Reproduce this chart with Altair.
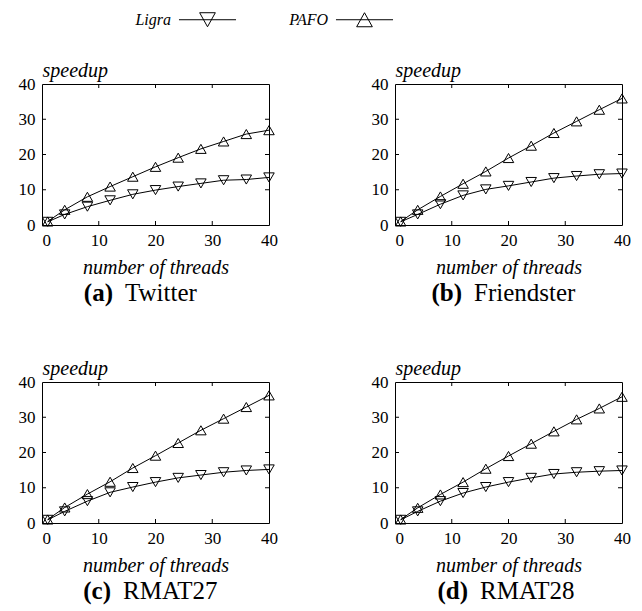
import altair as alt
import pandas as pd

# ---------------- data ----------------
threads = [1, 4, 8, 12, 16, 20, 24, 28, 32, 36, 40]
series_names = ["Ligra", "PAFO"]
panel_letters = ["(a)", "(b)", "(c)", "(d)"]
panel_names = ["Twitter", "Friendster", "RMAT27", "RMAT28"]

twitter_ligra = [0.9, 3.0, 5.2, 7.0, 8.7, 9.9, 10.9, 11.8, 12.7, 12.9, 13.5]
twitter_pafo = [1.0, 4.3, 8.0, 10.9, 13.7, 16.5, 19.1, 21.6, 23.7, 25.8, 26.9]
friendster_ligra = [0.9, 3.0, 5.9, 8.4, 10.1, 11.1, 12.2, 13.3, 13.9, 14.4, 14.6]
friendster_pafo = [1.0, 4.3, 8.1, 11.7, 15.2, 19.0, 22.5, 26.1, 29.4, 32.7, 35.9]
rmat27_ligra = [0.9, 3.3, 6.2, 8.7, 10.2, 11.6, 12.8, 13.6, 14.4, 14.9, 15.2]
rmat27_pafo = [1.0, 4.4, 8.2, 11.7, 15.6, 19.1, 22.7, 26.3, 29.6, 32.9, 36.2]
rmat28_ligra = [0.9, 3.3, 6.2, 8.5, 10.2, 11.6, 12.8, 13.9, 14.4, 14.7, 14.9]
rmat28_pafo = [1.0, 4.3, 8.1, 11.6, 15.4, 19.0, 22.5, 26.0, 29.4, 32.5, 35.8]

ligra_series = [twitter_ligra, friendster_ligra, rmat27_ligra, rmat28_ligra]
pafo_series = [twitter_pafo, friendster_pafo, rmat27_pafo, rmat28_pafo]

axis_ticks = [0, 10, 20, 30, 40]
inner_ticks = [10, 20, 30]

# ---------------- layout / style ----------------
W, H = 227, 141
TICK = 4
SERIF = "Liberation Serif"
caption_split = [77, 73, 75, 79]

# legend symbols: a 57px line with a triangle (size 324 -> 9px per unit)
LIGRA_PATH = "M-3.17,0L3.17,0M-0.87,-0.78L0.87,-0.78L0,0.78Z"
PAFO_PATH = "M-3.17,0L3.17,0M-0.87,0.78L0.87,0.78L0,-0.78Z"

xs = alt.Scale(domain=[0, 40], nice=False, zero=False)
ys = alt.Scale(domain=[0, 40], nice=False, zero=False)

x_axis = alt.Axis(
    values=axis_ticks, title="number of threads", ticks=False, domain=False,
    grid=False, labelPadding=7, labelFlush=False,
    labelAlign={"condition": {"test": "datum.value == 0", "value": "left"}, "value": "center"},
    titleY=48, titleBaseline="alphabetic",
    labelFont=SERIF, labelFontSize=17, labelColor="black",
    titleFont=SERIF, titleFontSize=20, titleFontStyle="italic",
    titleFontWeight="normal", titleColor="black",
)
y_axis = alt.Axis(
    values=axis_ticks, title="speedup", ticks=False, domain=False, grid=False,
    labelPadding=7, labelFlush=False, titleAngle=0, titleAlign="left",
    titleBaseline="alphabetic", titleX=0, titleY=-8,
    labelFont=SERIF, labelFontSize=17, labelColor="black",
    titleFont=SERIF, titleFontSize=20, titleFontStyle="italic",
    titleFontWeight="normal", titleColor="black",
)


def panel(i):
    rows = []
    for t, a, b in zip(threads, ligra_series[i], pafo_series[i]):
        rows.append({"threads": t, "speedup": a, "series": "Ligra"})
        rows.append({"threads": t, "speedup": b, "series": "PAFO"})
    df = pd.DataFrame(rows)
    base = alt.Chart(df)
    xe = alt.X("threads:Q", scale=xs, axis=x_axis)
    ye = alt.Y("speedup:Q", scale=ys, axis=y_axis)

    lines = base.mark_line(color="black", strokeWidth=1).encode(
        x=xe, y=ye, detail="series:N")
    pl = base.transform_filter(alt.datum.series == "Ligra").mark_point(
        shape="triangle-down", filled=False, color="black", size=110,
        strokeWidth=1, opacity=1).encode(x=xe, y=ye)
    pp = base.transform_filter(alt.datum.series == "PAFO").mark_point(
        shape="triangle-up", filled=False, color="black", size=110,
        strokeWidth=1, opacity=1).encode(x=xe, y=ye)

    ytick_df = pd.DataFrame({"speedup": inner_ticks})
    xtick_df = pd.DataFrame({"threads": inner_ticks})
    lt = alt.Chart(ytick_df).mark_rule(color="black", strokeWidth=1).encode(
        y=ye, x=alt.value(0), x2=alt.value(TICK))
    rt = alt.Chart(ytick_df).mark_rule(color="black", strokeWidth=1).encode(
        y=ye, x=alt.value(W - TICK), x2=alt.value(W))
    bt = alt.Chart(xtick_df).mark_rule(color="black", strokeWidth=1).encode(
        x=xe, y=alt.value(H), y2=alt.value(H - TICK))
    tt = alt.Chart(xtick_df).mark_rule(color="black", strokeWidth=1).encode(
        x=xe, y=alt.value(0), y2=alt.value(TICK))

    cap_df = pd.DataFrame({"letter": [panel_letters[i]], "name": [panel_names[i]]})
    cap1 = alt.Chart(cap_df).mark_text(
        font=SERIF, fontWeight="bold", fontSize=25, align="right",
        baseline="alphabetic", color="black").encode(
        text="letter:N", x=alt.value(caption_split[i] - 6), y=alt.value(H + 76))
    cap2 = alt.Chart(cap_df).mark_text(
        font=SERIF, fontSize=25, align="left",
        baseline="alphabetic", color="black").encode(
        text="name:N", x=alt.value(caption_split[i] + 6), y=alt.value(H + 76))

    layers = [lines, pl, pp, lt, rt, bt, tt, cap1, cap2]
    if i == 0:
        leg = base.mark_point(opacity=0, filled=False, color="black").encode(
            x=xe, y=ye,
            shape=alt.Shape(
                "series:N",
                scale=alt.Scale(domain=series_names, range=[LIGRA_PATH, PAFO_PATH]),
                legend=alt.Legend(
                    title=None, orient="none", legendX=156, legendY=-74,
                    direction="horizontal", columnPadding=50,
                    labelFont=SERIF, labelFontStyle="italic", labelFontSize=16,
                    labelColor="black", labelAlign="right",
                    labelOffset={"expr": "-46"},
                    symbolSize=324, symbolStrokeWidth=1,
                    symbolStrokeColor="black", symbolFillColor="transparent",
                    symbolOpacity=1, padding=0,
                ),
            ),
        )
        layers.append(leg)
    return alt.layer(*layers).properties(width=W, height=H)


chart = alt.concat(
    panel(0), panel(1), panel(2), panel(3),
    columns=2, spacing={"row": 157, "column": 126}, bounds="flush",
).properties(
    padding={"left": 17, "top": 10, "right": 5, "bottom": 5},
    background="white",
).configure_view(
    stroke="black", strokeWidth=1
)

chart.save("out.html", embed_options={"renderer": "svg", "actions": False})
